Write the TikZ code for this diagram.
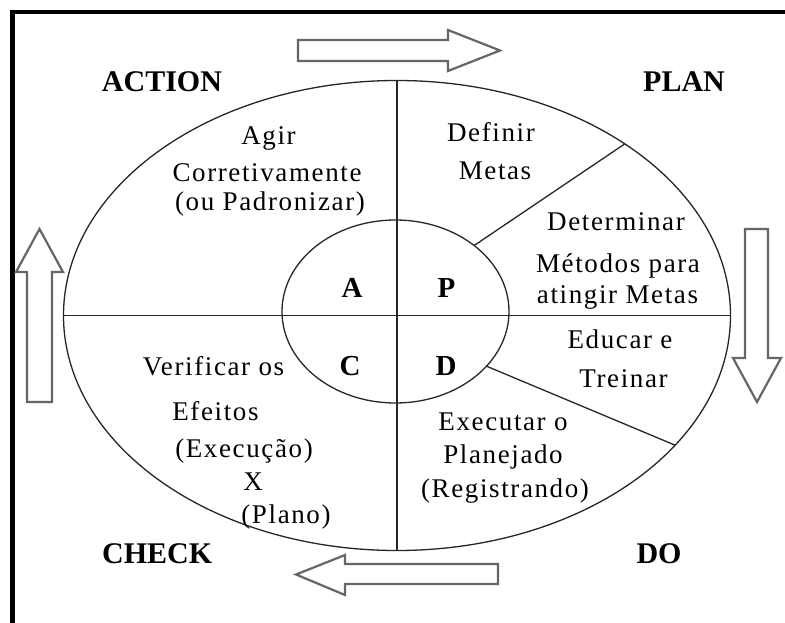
\documentclass[tikz,border=0pt]{standalone}
\usepackage{fontspec}
\setmainfont{Liberation Serif}
\newfontfamily\bodyf[LetterSpace=6]{Liberation Serif}
\usetikzlibrary{shapes.geometric}
\begin{document}
\begin{tikzpicture}[x=1pt,y=-1pt,
  body/.style={font=\bodyf\fontsize{27pt}{30pt}\selectfont, inner sep=0pt, anchor=base},
  lbl/.style={font=\bfseries\fontsize{30pt}{34pt}\selectfont, inner sep=0pt, anchor=base},
  quad/.style={font=\bfseries\fontsize{29pt}{34pt}\selectfont, inner sep=0pt, anchor=base},
  ring/.style={ellipse, draw=black!85, line width=1.3pt, inner sep=0pt, outer sep=0pt},
  divider/.style={draw=black!85, line width=1.3pt},
  bigarrow/.style={draw=black!60, line width=2.2pt, fill=white, line join=miter},
  frame/.style={draw=black, line width=4.5pt, line join=miter}]
\useasboundingbox (0,0) rectangle (785,623);
\fill[white] (0,0) rectangle (785,623);
% frame
\draw[frame] (12.5,630) -- (12.5,12) -- (790,12);
% ellipses
\node[ring, minimum width=667pt, minimum height=470pt] (outer) at (397,315.5) {};
\node[ring, minimum width=227pt, minimum height=183pt] (inner) at (395.5,311.5) {};
% dividers
\draw[divider] (outer.north) -- (outer.south);
\draw[divider] (outer.west) -- (outer.east);
\draw[divider] (inner.40.6) -- (outer.37.7);
\draw[divider] (inner.-31) -- (outer.-25.4);
% arrows
\draw[bigarrow] (298,40) -- (448,40) -- (448,30) -- (500,50.5) -- (448,71) -- (448,61) -- (298,61) -- cycle;
\draw[bigarrow] (498,564) -- (345,564) -- (345,555) -- (296,574.5) -- (345,595) -- (345,584) -- (498,584) -- cycle;
\draw[bigarrow] (27,402) -- (27,272) -- (16,272) -- (39.5,229) -- (63,272) -- (52,272) -- (52,402) -- cycle;
\draw[bigarrow] (745,229) -- (768,229) -- (768,358) -- (781,358) -- (757,402) -- (733,358) -- (745,358) -- cycle;
% corner labels
\node[lbl] (action) at (162,92) {ACTION};
\node[lbl] (plan) at (684,92) {PLAN};
\node[lbl, anchor=base west] (check) at (102,563) {CHECK};
\node[lbl] (do) at (659,563) {DO};
% quadrant letters
\node[quad] (qa) at (352,297) {A};
\node[quad] (qp) at (446.5,297) {P};
\node[quad] (qc) at (350,375) {C};
\node[quad] (qd) at (446,375) {D};
% texts
\node[body] (t1a) at (268.5,145) {Agir};
\node[body] (t1b) at (267,182) {Corretivamente};
\node[body] (t1c) at (270,211) {(ou Padronizar)};
\node[body] (t2a) at (491,142) {Definir};
\node[body] (t2b) at (495,180) {Metas};
\node[body] (t3a) at (616,230) {Determinar};
\node[body] (t3b) at (618,272) {Métodos para};
\node[body] (t3c) at (617.5,303) {atingir Metas};
\node[body] (t4a) at (620,348) {Educar e};
\node[body] (t4b) at (623.5,387) {Treinar};
\node[body] (t5a) at (503,430) {Executar o};
\node[body] (t5b) at (503,463) {Planejado};
\node[body] (t5c) at (505,497) {(Registrando)};
\node[body] (t6a) at (213.5,375) {Verificar os};
\node[body] (t6b) at (215.5,420) {Efeitos};
\node[body] (t6c) at (244,457) {(Execução)};
\node[body] (t6d) at (253,490) {X};
\node[body] (t6e) at (286,523) {(Plano)};
\end{tikzpicture}
\end{document}
